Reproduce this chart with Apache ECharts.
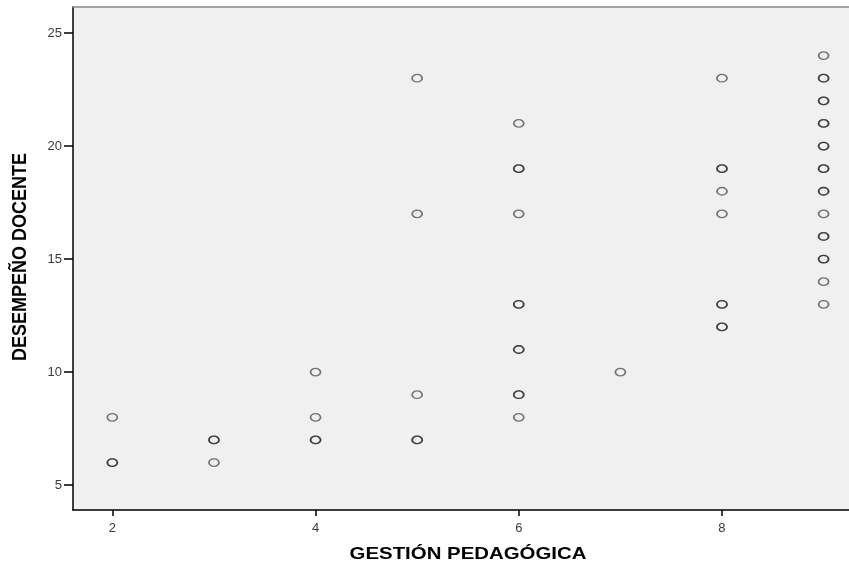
<!DOCTYPE html>
<html>
<head>
<meta charset="utf-8">
<script src="https://cdn.jsdelivr.net/npm/echarts@6/dist/echarts.min.js"></script>
<style>html,body{margin:0;padding:0;background:#fff}#c{width:849px;height:567px}</style>
</head>
<body>
<div id="c"></div>
<script>
// Gestión pedagógica (x) vs Desempeño docente (y); repeated pairs = overlapping cases
const gestion = [2,2,2, 3,3,3, 4,4,4,4, 5,5,5,5,5, 6,6,6,6,6,6,6,6,6,6,6, 7, 8,8,8,8,8,8,8,8,8, 9,9,9,9,9,9,9,9,9,9,9,9,9,9,9,9,9,9,9,9];
const desempeno = [8,6,6, 7,7,6, 10,8,7,7, 23,17,9,7,7, 21,19,19,17,13,13,11,11,9,9,8, 10, 23,19,19,18,17,13,13,12,12, 24,23,23,22,22,21,21,20,20,19,19,18,18,17,16,16,15,15,14,13];
const xTicks = [2,4,6,8];
const yTicks = [5,10,15,20,25];
const xTitle = 'GESTIÓN PEDAGÓGICA';
const yTitle = 'DESEMPEÑO DOCENTE';

const points = gestion.map((g, i) => [g, desempeno[i]]);
const chart = echarts.init(document.getElementById('c'));
const font = 'Liberation Sans, Arial, sans-serif';
chart.setOption({
  animation: false,
  grid: {left: 73, top: 7, right: 0, bottom: 57, show: true, backgroundColor: '#f0f0f0', borderWidth: 0},
  graphic: [
    {type: 'text', x: 468, y: 554, scaleX: 1.2,
     style: {text: xTitle, font: 'bold 17px Liberation Sans, Arial, sans-serif', fill: '#000', align: 'center', verticalAlign: 'middle'}},
    {type: 'text', x: 21, y: 257, rotation: Math.PI / 2, scaleY: 1.1,
     style: {text: yTitle, font: 'bold 18px Liberation Sans, Arial, sans-serif', fill: '#000', align: 'center', verticalAlign: 'middle'}}
  ],
  xAxis: [{
    type: 'value', min: 1.613, max: 9.25,
    axisLine: {show: true, onZero: false, lineStyle: {color: '#000', width: 1.5}},
    axisTick: {show: true, customValues: xTicks, length: 6, lineStyle: {color: '#000', width: 1.5}},
    axisLabel: {customValues: xTicks, fontFamily: font, fontSize: 13, color: '#3a3a3a', margin: 12},
    splitLine: {show: false}
  }, {
    type: 'value', position: 'top', min: 1.613, max: 9.25,
    axisLine: {show: true, onZero: false, lineStyle: {color: '#888', width: 1.5}},
    axisTick: {show: false}, axisLabel: {show: false}, splitLine: {show: false}
  }],
  yAxis: {
    type: 'value', min: 3.9, max: 26.15,
    axisLine: {show: true, onZero: false, lineStyle: {color: '#000', width: 1.5}},
    axisTick: {show: true, customValues: yTicks, length: 9, lineStyle: {color: '#000', width: 1.5}},
    axisLabel: {customValues: yTicks, fontFamily: font, fontSize: 13, color: '#3a3a3a', margin: 11},
    splitLine: {show: false}
  },
  series: [{
    type: 'scatter', xAxisIndex: 0, data: points,
    symbol: 'circle', symbolSize: [10, 7.5],
    itemStyle: {color: 'rgba(0,0,0,0)', borderColor: 'rgba(30,30,30,0.6)', borderWidth: 1.5, opacity: 1},
    emphasis: {disabled: true}
  }]
});
</script>
</body>
</html>
